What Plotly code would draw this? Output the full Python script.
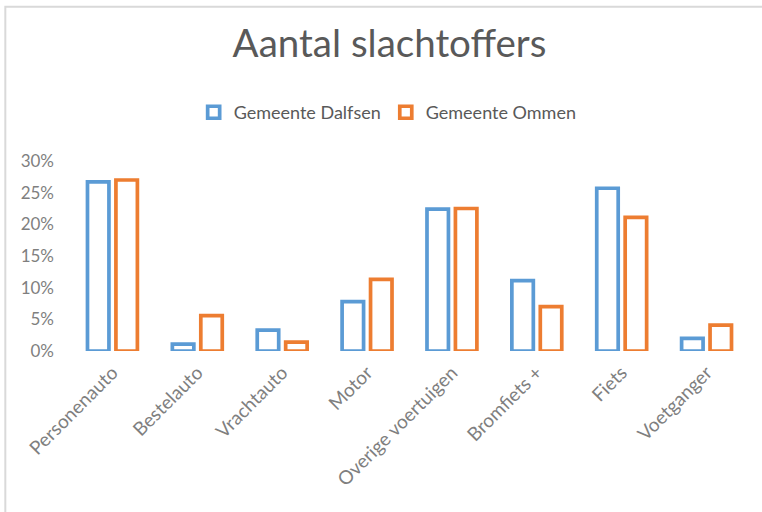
import plotly.graph_objects as go

categories = ["Personenauto", "Bestelauto", "Vrachtauto", "Motor",
              "Overige voertuigen", "Bromfiets +", "Fiets", "Voetganger"]
dalfsen = [0.267, 0.011, 0.033, 0.078, 0.224, 0.111, 0.257, 0.020]
ommen = [0.270, 0.056, 0.014, 0.113, 0.225, 0.070, 0.211, 0.041]
y_ticks = [0, 0.05, 0.10, 0.15, 0.20, 0.25, 0.30]
y_tick_labels = ["0%", "5%", "10%", "15%", "20%", "25%", "30%"]

BLUE = "#5b9bd5"
ORANGE = "#ed7d31"
GREY = "#7f7f7f"
FONT = "Lato, 'Open Sans', sans-serif"

fig = go.Figure()
fig.add_trace(go.Bar(x=categories, y=dalfsen, name="Gemeente Dalfsen",
                     marker=dict(color="white", line=dict(color=BLUE, width=3.7))))
fig.add_trace(go.Bar(x=categories, y=ommen, name="Gemeente Ommen",
                     marker=dict(color="white", line=dict(color=ORANGE, width=3.7))))

W, H = 762, 512
ml = 70.2
mr = W - 749.5
mt = 160.5
mb = H - 350.7
pw, ph = W - ml - mr, H - mt - mb

def px_to_paper_x(px):
    return (px - ml) / pw

def px_to_paper_y(py):
    return (H - mb - py) / ph

fig.update_layout(
    width=W, height=H,
    margin=dict(l=ml, r=mr, t=mt, b=mb, autoexpand=False),
    paper_bgcolor="white", plot_bgcolor="white",
    font=dict(family=FONT, color=GREY),
    title=dict(text="Aantal slachtoffers", x=389.5 / W, xanchor="center",
               y=1 - 43.5 / H, yanchor="middle",
               font=dict(family=FONT, size=38.5, color="#595959")),
    legend=dict(orientation="h", x=px_to_paper_x(388), xanchor="center",
                y=px_to_paper_y(112), yanchor="middle",
                font=dict(family=FONT, size=18, color="#595959"),
                itemwidth=30, bgcolor="rgba(0,0,0,0)"),
    barmode="group", bargap=0.33, bargroupgap=0.245,
    xaxis=dict(showgrid=False, showline=False, zeroline=False, ticks="",
               automargin=False, tickangle=-45, ticklabelstandoff=6,
               tickfont=dict(family=FONT, size=19, color=GREY)),
    yaxis=dict(range=[0, 0.3], tickvals=y_ticks, ticktext=y_tick_labels,
               automargin=False, showgrid=False, showline=False, zeroline=False,
               ticks="", ticklabelstandoff=15,
               tickfont=dict(family=FONT, size=17, color=GREY)),
    showlegend=True,
    shapes=[dict(type="rect", xref="paper", yref="paper",
                 x0=px_to_paper_x(5.5), x1=px_to_paper_x(800),
                 y0=px_to_paper_y(560), y1=px_to_paper_y(6),
                 line=dict(color="#d9d9d9", width=2), fillcolor="rgba(0,0,0,0)",
                 layer="below")],
)

fig.write_html("out.html",
               config={"displayModeBar": False},
               post_script="document.body.style.margin='0';document.body.style.overflow='hidden';")
